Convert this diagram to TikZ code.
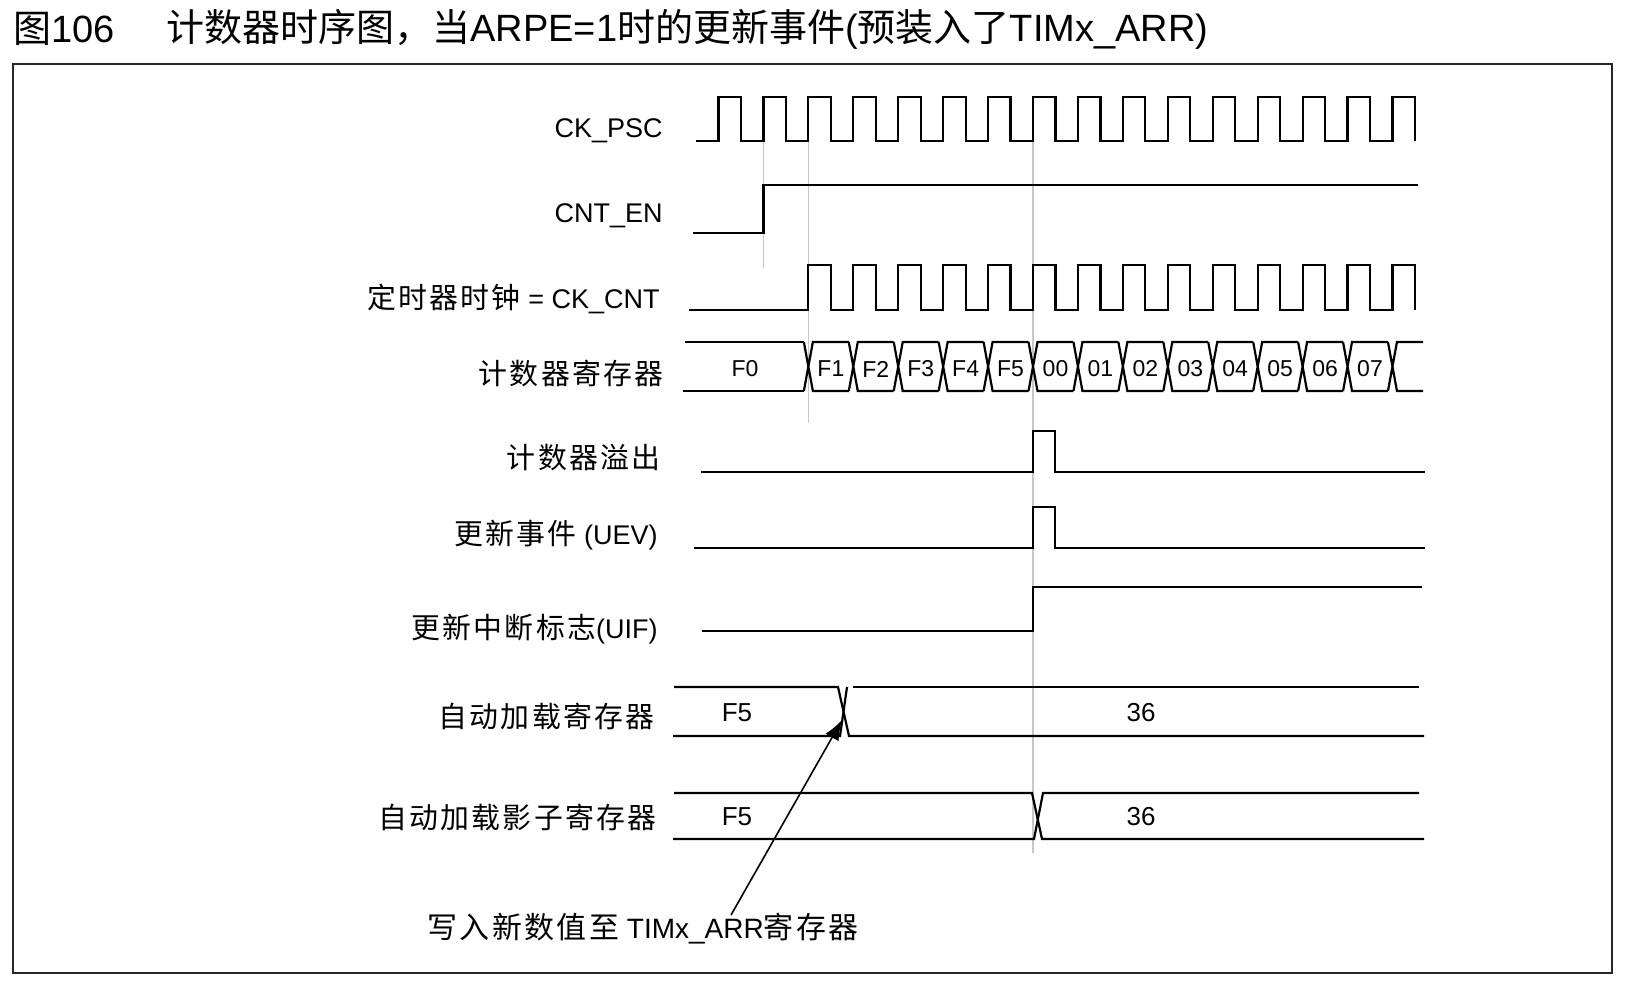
\documentclass[tikz,border=0pt]{standalone}
\usepackage{fontspec}
\setmainfont{Liberation Sans}
\newfontfamily\cjk{Noto Sans CJK SC}
\newfontfamily\cjksp{Noto Sans CJK SC}[Scale=1.07,LetterSpace=8]
\usetikzlibrary{arrows.meta}

\begin{document}
\begin{tikzpicture}[x=0.5pt,y=-0.5pt,
  sig/.style={line width=1.1pt,line join=miter},
  guide/.style={line width=0.6pt,draw=black!22},
  lab/.style={anchor=east,inner sep=0pt,font=\fontsize{13.5}{16}\selectfont},
  val/.style={inner sep=0pt,font=\fontsize{11.5}{14}\selectfont},
  regval/.style={inner sep=0pt,font=\fontsize{13}{15}\selectfont}]

\useasboundingbox (0,0) rectangle (1627,981);

\node[anchor=west,inner sep=0pt,font=\fontsize{19}{22}\selectfont] (fignum) at (13,29) {{\cjk 图}106};
\node[anchor=west,inner sep=0pt,font=\fontsize{19}{22}\selectfont] (figtitle) at (166,29)
  {{\cjk 计数器时序图，当}ARPE=1{\cjk 时的更新事件}({\cjk 预装入了}TIMx\_ARR)};

\draw[line width=1.4pt,draw=black!85] (13,64) rectangle (1612,973);

\draw[guide] (763.4,141) -- (763.4,268);
\draw[guide] (808.4,141) -- (808.4,423);
\draw[guide] (1033,141) -- (1033,853);

\node[lab] (psc) at (663,131) {CK\_PSC};
\node[lab] (en) at (663,216) {CNT\_EN};
\node[lab] (cnt) at (660,299) {{\cjksp 定时器时钟} = CK\_CNT};
\node[lab] (reg) at (664,373) {\cjksp 计数器寄存器};
\node[lab] (ovf) at (661,458) {\cjksp 计数器溢出};
\node[lab] (uev) at (658,535) {{\cjksp 更新事件} (UEV)};
\node[lab] (uif) at (658,629) {{\cjksp 更新中断标志}(UIF)};
\node[lab] (arr) at (655,716) {\cjksp 自动加载寄存器};
\node[lab] (shadow) at (657,817) {\cjksp 自动加载影子寄存器};

\draw[sig] (696,141) foreach \k in {0,...,15} { -- ({718.5+44.93*\k},141) -- ++(0,-44) -- ++(22.5,0) -- ++(0,44) };
\draw[sig] (693,233) -- (763.4,233) -- (763.4,185) -- (1418,185);
\draw[sig] (689,310) foreach \k in {2,...,15} { -- ({718.5+44.93*\k},310) -- ++(0,-45) -- ++(22.5,0) -- ++(0,45) };

\draw[sig] (685,342) -- (803.9,342) (683,391) -- (803.9,391);
\foreach \k in {2,...,15} {
  \pgfmathsetmacro\e{718.5+44.93*\k}
  \pgfmathsetmacro\f{\k<15 ? \e+40.43 : 1423}
  \draw[sig] ({\e-4.5},342) -- ({\e+4.5},391) -- (\f,391)
             ({\e-4.5},391) -- ({\e+4.5},342) -- (\f,342);
}
\node[val] (cF0) at (745,369) {F0};
\foreach \v [count=\i from 2] in {F1,F2,F3,F4,F5,00,01,02,03,04,05,06,07}
  \node[val] (c\v) at ({718.5+44.93*\i+22.5},369) {\v};

\draw[sig] (701,472) -- (1033,472) -- (1033,431) -- (1055,431) -- (1055,472) -- (1425,472);
\draw[sig] (694,548) -- (1033,548) -- (1033,507) -- (1055,507) -- (1055,548) -- (1425,548);
\draw[sig] (702,631) -- (1033,631) -- (1033,587) -- (1422,587);

\draw[sig] (674,687) -- (838,687) -- (849,736) -- (1424,736);
\draw[sig] (673,736) -- (840,736) -- (847,687);
\draw[sig] (853,687) -- (1419,687);
\node[regval] (arrold) at (737,713) {F5};
\node[regval] (arrnew) at (1141,713) {36};

\draw[sig] (674,793) -- (1032,793) -- (1042,839) -- (1424,839);
\draw[sig] (673,839) -- (1034,839) -- (1043,793) -- (1419,793);
\node[regval] (shaold) at (737,817) {F5};
\node[regval] (shanew) at (1141,817) {36};

\node[anchor=west,inner sep=0pt,font=\fontsize{14}{16}\selectfont] (note) at (427,929)
  {{\cjksp 写入新数值至} TIMx\_ARR{\cjksp 寄存器}};
\coordinate (wrtail) at (731,915);
\coordinate (wrtip) at (842,720);
\draw[line width=0.8pt,-{Latex[length=10pt,width=7.5pt]}] (wrtail) -- (wrtip);
\end{tikzpicture}
\end{document}
